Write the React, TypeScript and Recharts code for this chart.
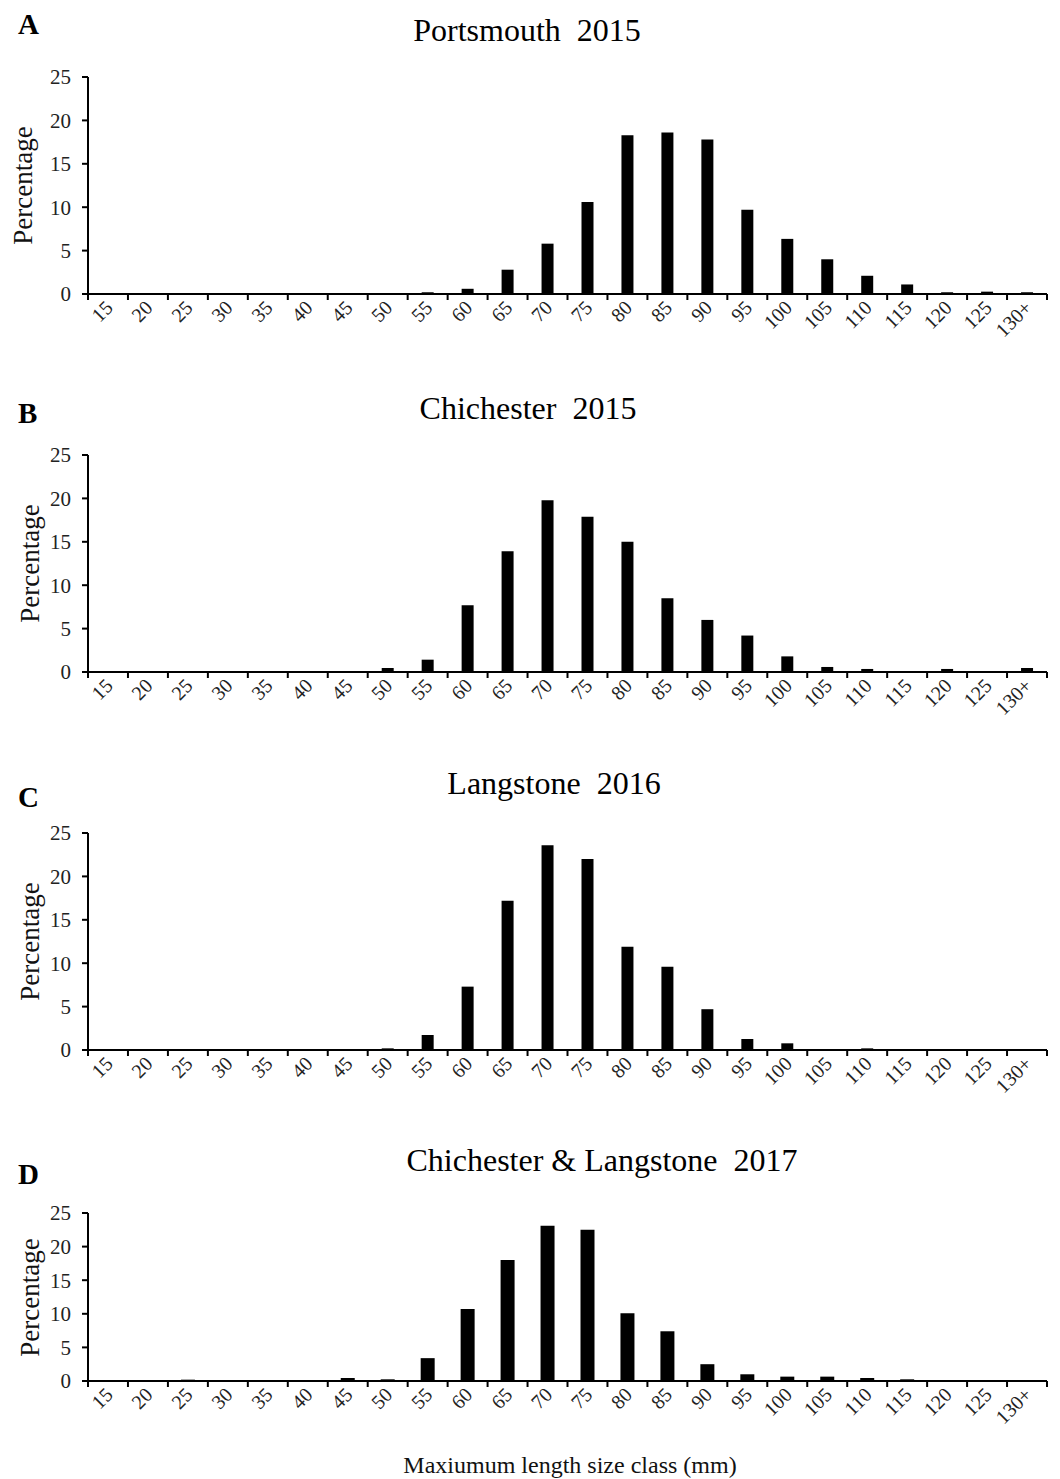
import { BarChart, Bar, XAxis, YAxis } from 'recharts';

const sizeClasses = ['15', '20', '25', '30', '35', '40', '45', '50', '55', '60', '65', '70', '75', '80', '85', '90', '95', '100', '105', '110', '115', '120', '125', '130+'];
const yTicks = [0, 5, 10, 15, 20, 25];

const portsmouth2015 = [0, 0, 0, 0, 0, 0, 0, 0, 0.2, 0.6, 2.8, 5.8, 10.6, 18.3, 18.6, 17.8, 9.7, 6.35, 4.0, 2.1, 1.1, 0.2, 0.27, 0.2];
const chichester2015 = [0, 0, 0, 0, 0, 0, 0, 0.46, 1.42, 7.7, 13.9, 19.8, 17.9, 15.0, 8.5, 6.0, 4.2, 1.8, 0.58, 0.35, 0, 0.35, 0, 0.46];
const langstone2016 = [0, 0, 0, 0, 0, 0, 0, 0.19, 1.73, 7.3, 17.2, 23.6, 22.0, 11.9, 9.6, 4.7, 1.27, 0.77, 0, 0.19, 0, 0, 0, 0];
const chichesterLangstone2017 = [0, 0, 0.2, 0, 0, 0, 0.45, 0.25, 3.4, 10.7, 18.0, 23.1, 22.5, 10.1, 7.4, 2.5, 1.0, 0.65, 0.65, 0.45, 0.25, 0, 0, 0];

const FONT = '"Liberation Serif", "Times New Roman", serif';
const PLOT_LEFT = 88;
const PLOT_RIGHT = 1047;
const HALF_BAND = (PLOT_RIGHT - PLOT_LEFT) / sizeClasses.length / 2;

const panels = [
  { letter: 'A', title: 'Portsmouth 2015', values: portsmouth2015, plotTop: 77, plotBottom: 294, titleX: 527, titleY: 30, letterY: 24, labelX: 23, barSize: 12 },
  { letter: 'B', title: 'Chichester 2015', values: chichester2015, plotTop: 455, plotBottom: 672, titleX: 528, titleY: 408, letterY: 413, labelX: 30, barSize: 12 },
  { letter: 'C', title: 'Langstone 2016', values: langstone2016, plotTop: 833, plotBottom: 1050, titleX: 554, titleY: 783, letterY: 797, labelX: 30, barSize: 12 },
  { letter: 'D', title: 'Chichester & Langstone 2017', values: chichesterLangstone2017, plotTop: 1213, plotBottom: 1381, titleX: 602, titleY: 1160, letterY: 1174, labelX: 30, barSize: 14 },
];

const SizeTick = (props: any) => {
  const { x, y, payload, index } = props;
  const last = index === sizeClasses.length - 1;
  const tx = x + 6;
  const ty = y + 15;
  return (
    <g>
      <line x1={x - HALF_BAND} x2={x - HALF_BAND} y1={y} y2={y + 6} stroke="#000" strokeWidth={2} />
      {last && <line x1={x + HALF_BAND} x2={x + HALF_BAND} y1={y} y2={y + 6} stroke="#000" strokeWidth={2} />}
      <text x={tx} y={ty} textAnchor="end" fontSize={20} fontFamily={FONT} fill="#222" transform={`rotate(-45, ${tx}, ${ty})`}>
        {payload.value}
      </text>
    </g>
  );
};

const TOP_PAD = 20;
const X_AXIS_H = 60;

const Panel = ({ p }: { p: typeof panels[number] }) => {
  const data = sizeClasses.map((s, i) => ({ size: s, value: p.values[i] }));
  const plotH = p.plotBottom - p.plotTop;
  return (
    <>
      <div style={{ position: 'absolute', left: 18, top: p.letterY - 17, fontFamily: FONT, fontWeight: 'bold', fontSize: 29, lineHeight: '34px' }}>{p.letter}</div>
      <div style={{ position: 'absolute', left: p.titleX - 300, width: 600, top: p.titleY - 18, textAlign: 'center', fontFamily: FONT, fontSize: 32, lineHeight: '36px', whiteSpace: 'pre' }}>
        {p.title.replace(' 20', '  20')}
      </div>
      <div
        style={{
          position: 'absolute',
          left: p.labelX - 15,
          top: (p.plotTop + p.plotBottom) / 2 - 15,
          width: 30,
          height: 30,
          display: 'flex',
          alignItems: 'center',
          justifyContent: 'center',
        }}
      >
        <div style={{ transform: 'rotate(-90deg)', fontFamily: FONT, fontSize: 27, whiteSpace: 'nowrap', color: '#111' }}>Percentage</div>
      </div>
      <div style={{ position: 'absolute', left: 0, top: p.plotTop - TOP_PAD }}>
        <BarChart
          width={1060}
          height={TOP_PAD + plotH + X_AXIS_H}
          data={data}
          margin={{ top: TOP_PAD, right: 1060 - PLOT_RIGHT, left: PLOT_LEFT - 40, bottom: 0 }}
          barCategoryGap={0}
        >
          <XAxis
            dataKey="size"
            interval={0}
            height={X_AXIS_H}
            tickLine={false}
            tickSize={0}
            tickMargin={0}
            axisLine={{ stroke: '#000', strokeWidth: 2 }}
            tick={<SizeTick />}
          />
          <YAxis
            width={40}
            domain={[0, 25]}
            ticks={yTicks}
            interval={0}
            tickSize={6}
            tickMargin={11}
            tickLine={{ stroke: '#000', strokeWidth: 2 }}
            axisLine={{ stroke: '#000', strokeWidth: 2 }}
            tick={{ fill: '#222', fontSize: 21, fontFamily: FONT }}
          />
          <Bar dataKey="value" fill="#000" barSize={p.barSize} isAnimationActive={false} />
        </BarChart>
      </div>
    </>
  );
};

export default function App() {
  return (
    <div style={{ position: 'absolute', left: 0, top: 0, width: 1060, height: 1479, background: '#fff', overflow: 'hidden' }}>
      {panels.map((p) => (
        <Panel key={p.letter} p={p} />
      ))}
      <div style={{ position: 'absolute', left: 270, width: 600, top: 1451, textAlign: 'center', fontFamily: FONT, fontSize: 24, lineHeight: '28px', color: '#111' }}>
        Maxiumum length size class (mm)
      </div>
    </div>
  );
}
